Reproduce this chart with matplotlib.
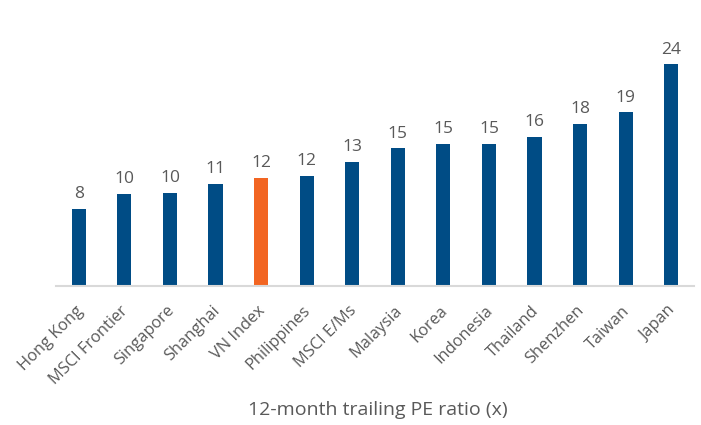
import matplotlib.pyplot as plt
from matplotlib.transforms import ScaledTranslation

markets = ["Hong Kong", "MSCI Frontier", "Singapore", "Shanghai", "VN Index",
           "Philippines", "MSCI E/Ms", "Malaysia", "Korea", "Indonesia",
           "Thailand", "Shenzhen", "Taiwan", "Japan"]
pe_ratio = [8.3, 10.0, 10.1, 11.1, 11.7, 11.9, 13.4, 14.9, 15.4, 15.4,
            16.1, 17.6, 18.8, 24.0]
highlight = "VN Index"

BLUE = "#004C85"
ORANGE = "#F26522"
GREY = "#595959"

plt.rcParams["font.family"] = ["Open Sans", "DejaVu Sans"]

fig = plt.figure(figsize=(7.01, 4.25), dpi=100)
ax = fig.add_axes([56 / 701, (425 - 286) / 425, (694 - 56) / 701, 240 / 425])

colors = [ORANGE if m == highlight else BLUE for m in markets]
x = range(len(markets))
bars = ax.bar(x, pe_ratio, width=0.31, color=colors)

for b, v in zip(bars, pe_ratio):
    ax.annotate(f"{v:.0f}", (b.get_x() + b.get_width() / 2, v),
                xytext=(0, 5), textcoords="offset points",
                ha="center", va="bottom", fontsize=12.5, color=GREY)

ax.set_xlim(-0.5, len(markets) - 0.5)
ax.set_ylim(0, 26)
ax.set_yticks([])
ax.set_xticks(list(x))
ax.set_xticklabels(markets, rotation=45, ha="right", rotation_mode="anchor",
                   fontsize=11.8, color=GREY)
ax.tick_params(axis="x", length=0, pad=12)
shift = ScaledTranslation(-4 / 100, 0, fig.dpi_scale_trans)
for lbl in ax.get_xticklabels():
    lbl.set_transform(lbl.get_transform() + shift)

for s in ["top", "right", "left"]:
    ax.spines[s].set_visible(False)
ax.spines["bottom"].set_color("#D9D9D9")
ax.spines["bottom"].set_linewidth(1.5)

fig.text(378 / 701, 1 - 410 / 425, "12-month trailing PE ratio (x)",
         ha="center", va="center", fontsize=14, color=GREY)

fig.savefig("out.png", dpi=100)
